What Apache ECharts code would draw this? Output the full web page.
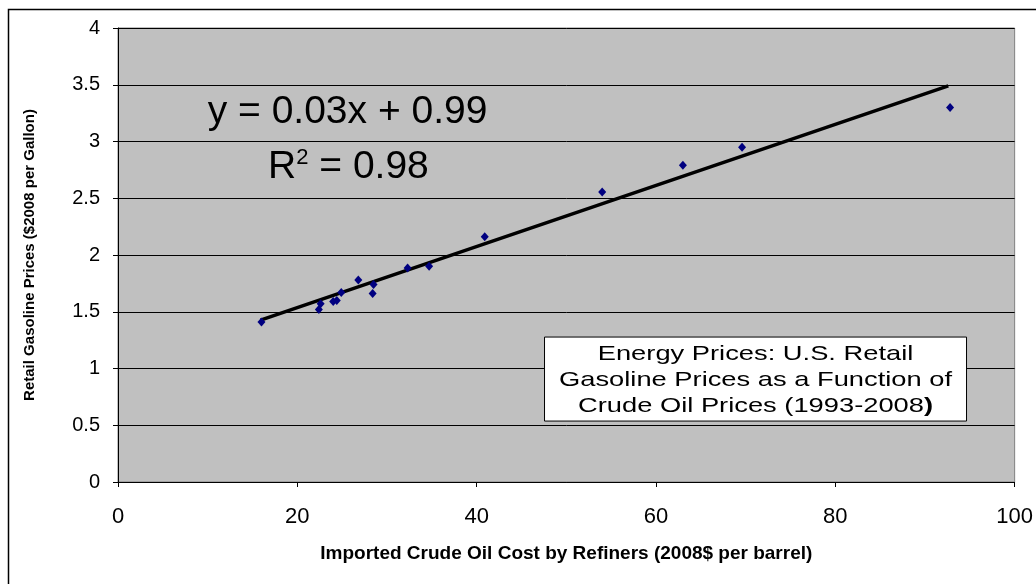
<!DOCTYPE html>
<html>
<head>
<meta charset="utf-8">
<script src="https://cdn.jsdelivr.net/npm/echarts@6/dist/echarts.min.js"></script>
<style>
  html, body { margin: 0; padding: 0; background: #fff; }
  #container { width: 1036px; height: 584px; }
</style>
</head>
<body>
<div id="container"></div>
<script>
// crude oil cost (2008$ / barrel) vs retail gasoline price (2008$ / gallon)
var crudeCost = [16.0, 22.4, 22.6, 24.0, 24.4, 24.9, 26.8, 28.5, 28.4, 32.3, 34.7, 40.9, 54.0, 63.0, 69.6, 92.8]
var gasPrice = [1.41, 1.52, 1.57, 1.59, 1.60, 1.67, 1.78, 1.74, 1.66, 1.885, 1.90, 2.16, 2.555, 2.79, 2.95, 3.30]

// linear trend line end points
var trendX = [15.9, 92.6]
var trendY = [1.427, 3.49]

var xTicks = [0, 20, 40, 60, 80, 100]
var yTicks = [0, 0.5, 1, 1.5, 2, 2.5, 3, 3.5, 4]

var equationText = 'y = 0.03x + 0.99'
var r2Text = '0.98'
var boxLines = ['Energy Prices: U.S. Retail', 'Gasoline Prices as a Function of', 'Crude Oil Prices (1993-2008']

var points = crudeCost.map(function (c, i) { return [c, gasPrice[i]] })
var trend = trendX.map(function (t, i) { return [t, trendY[i]] })

var font = '"Liberation Sans", Arial, sans-serif'

var myChart = echarts.init(document.getElementById('container'));
myChart.setOption({
    animation: false,
    textStyle: { fontFamily: font },
    grid: {
        left: 118,
        right: 21,
        top: 28,
        bottom: 102,
        show: true,
        backgroundColor: '#c0c0c0',
        borderColor: '#808080',
        borderWidth: 1
    },
    xAxis: {
        type: 'value',
        min: 0,
        max: 100,
        interval: 20,
        name: 'Imported Crude Oil Cost by Refiners (2008$ per barrel)',
        nameLocation: 'middle',
        nameGap: 62,
        nameTextStyle: { fontSize: 19, fontWeight: 'bold', color: '#000', fontFamily: font },
        axisLine: { lineStyle: { color: '#000', width: 1 } },
        axisTick: { show: true, length: 5, lineStyle: { color: '#000' } },
        axisLabel: {
            fontSize: 22, color: '#000', margin: 24, fontFamily: font,
            formatter: function (v) { return xTicks.indexOf(v) >= 0 ? String(v) : '' }
        },
        splitLine: { show: false }
    },
    yAxis: {
        type: 'value',
        min: 0,
        max: 4,
        interval: 0.5,
        name: 'Retail Gasoline Prices ($2008 per Gallon)',
        nameLocation: 'middle',
        nameGap: 81,
        nameTextStyle: { fontSize: 15, fontWeight: 'bold', color: '#000', fontFamily: font },
        axisLine: { show: true, lineStyle: { color: '#000', width: 1 } },
        axisTick: { show: true, length: 5, lineStyle: { color: '#000' } },
        axisLabel: {
            fontSize: 20, color: '#000', margin: 18, fontFamily: font,
            formatter: function (v) { return yTicks.indexOf(v) >= 0 ? String(v) : '' }
        },
        splitLine: { show: true, lineStyle: { color: '#000', width: 1 } }
    },
    series: [
        {
            name: 'trend',
            type: 'line',
            data: trend,
            showSymbol: false,
            lineStyle: { color: '#000', width: 3.5 },
            z: 2
        },
        {
            name: 'data',
            type: 'scatter',
            data: points,
            symbol: 'diamond',
            symbolSize: [8, 9],
            itemStyle: { color: '#000080', opacity: 1 },
            z: 3
        },
        {
            name: 'labels',
            type: 'scatter',
            data: [[25.6, 3.26], [25.7, 2.77]],
            symbolSize: 0,
            silent: true,
            itemStyle: { opacity: 1 },
            label: {
                show: true,
                position: 'inside',
                opacity: 1,
                fontFamily: font,
                color: '#000',
                formatter: function (p) {
                    return p.dataIndex === 0 ? '{a|' + equationText + '}' : '{a|R}{s|2}{a| = ' + r2Text + '}'
                },
                rich: {
                    a: { fontSize: 39, color: '#000', fontFamily: font },
                    s: { fontSize: 22, color: '#000', fontFamily: font, verticalAlign: 'top', padding: [0, 0, 20, 0] }
                }
            },
            z: 4
        }
    ]
});

// annotation box, placed at a data position and stretched horizontally like the original
var boxCenter = myChart.convertToPixel({ gridIndex: 0 }, [71.1, 0.907])
myChart.setOption({
    graphic: [
        {
            type: 'rect',
            left: 6, top: 7,
            shape: { width: 1040, height: 590 },
            style: { fill: 'none', stroke: '#000', lineWidth: 1.5 },
            z: -1
        },
        {
            type: 'group',
            x: boxCenter[0],
            y: boxCenter[1],
            z: 10,
            children: [
                {
                    type: 'rect',
                    shape: { x: -211, y: -42, width: 422, height: 84 },
                    style: { fill: '#fff', stroke: '#000', lineWidth: 1 }
                },
                {
                    type: 'text',
                    scaleX: 1.3,
                    style: {
                        text: '{t|' + boxLines[0] + '}\n{t|' + boxLines[1] + '}\n{t|' + boxLines[2] + '}{b|)}',
                        x: 0, y: 1,
                        align: 'center',
                        verticalAlign: 'middle',
                        rich: {
                            t: { fontSize: 21, fontFamily: font, fill: '#000', lineHeight: 26 },
                            b: { fontSize: 21, fontFamily: font, fontWeight: 'bold', fill: '#000', lineHeight: 26 }
                        }
                    }
                }
            ]
        }
    ]
});
</script>
</body>
</html>
